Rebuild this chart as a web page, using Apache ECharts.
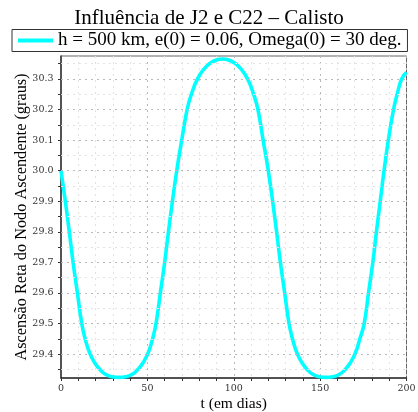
<!DOCTYPE html>
<html>
<head>
<meta charset="utf-8">
<script src="https://cdn.jsdelivr.net/npm/echarts@6/dist/echarts.min.js"></script>
<style>
html,body{margin:0;padding:0;background:#fff;}
#chart{width:418px;height:412px;}
</style>
</head>
<body>
<div id="chart"></div>
<script>
// Data
const tDays = [0, 2.5, 4.8, 7, 9.5, 12, 14, 16.5, 19.5, 22.5, 25.5, 29.5, 33.5, 37.5, 41.5, 44.5, 47.5, 50.5, 53, 55, 57.5, 60, 62.2, 64.5, 67, 69.9, 73, 75.5, 79, 83, 86.5, 90, 93.5, 97, 100.5, 104, 108, 111.5, 114, 117, 120, 122.5, 124.8, 127, 129.5, 132, 134, 136.5, 139.5, 142.5, 145.5, 149.5, 153.5, 157.5, 161.5, 164.5, 167.5, 170.5, 173, 175.5, 178, 180.5, 182.6, 184.8, 187, 189.5, 192.5, 194.6, 197.2, 200];
const omegaDeg = [30.00, 29.90, 29.80, 29.70, 29.60, 29.50, 29.45, 29.405, 29.372, 29.35, 29.335, 29.326, 29.324, 29.326, 29.335, 29.35, 29.372, 29.405, 29.45, 29.50, 29.60, 29.70, 29.80, 29.90, 30.00, 30.10, 30.20, 30.25, 30.30, 30.334, 30.352, 30.362, 30.365, 30.362, 30.352, 30.334, 30.30, 30.25, 30.20, 30.10, 30.00, 29.90, 29.80, 29.70, 29.60, 29.50, 29.45, 29.405, 29.372, 29.35, 29.335, 29.326, 29.324, 29.326, 29.335, 29.35, 29.372, 29.405, 29.45, 29.50, 29.60, 29.70, 29.80, 29.90, 30.00, 30.10, 30.20, 30.25, 30.30, 30.322];
const yMajorTicks = [29.4, 29.5, 29.6, 29.7, 29.8, 29.9, 30.0, 30.1, 30.2, 30.3];
const yMinorTicks = [29.35, 29.45, 29.55, 29.65, 29.75, 29.85, 29.95, 30.05, 30.15, 30.25, 30.35];
const seriesName = 'h = 500 km, e(0) = 0.06, Omega(0) = 30 deg.';
const titleText = 'Influência de J2 e C22 – Calisto';
const xName = 't (em dias)';
const yName = 'Ascensão Reta do Nodo Ascendente (graus)';

const serif = 'Liberation Serif';
const tickFont = 'DejaVu Serif';
const points = tDays.map((t, i) => [t, omegaDeg[i]]);
const allYTicks = yMajorTicks.concat(yMinorTicks).sort((a, b) => a - b);

const chart = echarts.init(document.getElementById('chart'), null, {renderer: 'canvas'});
chart.setOption({
  backgroundColor: '#ffffff',
  animation: false,
  title: {
    text: titleText,
    left: 'center',
    top: 8,
    padding: 0,
    textStyle: {fontFamily: serif, fontSize: 21, fontWeight: 'normal', color: '#000'}
  },
  legend: {
    left: 12,
    top: 29.5,
    padding: [1, 6],
    borderColor: '#333',
    borderWidth: 1,
    itemWidth: 35,
    itemHeight: 4,
    icon: 'rect',
    textStyle: {fontFamily: serif, fontSize: 19, color: '#000', lineHeight: 20},
    data: [seriesName]
  },
  grid: {
    left: 61, right: 11.5, top: 56, bottom: 34,
    outerBoundsMode: 'none',
    containLabel: false,
    show: true, borderColor: '#666', borderWidth: 1, backgroundColor: 'transparent'
  },
  xAxis: {
    type: 'value',
    min: 0, max: 200, interval: 50,
    name: xName, nameLocation: 'middle', nameGap: 18, nameMoveOverlap: false,
    nameTextStyle: {fontFamily: serif, fontSize: 15.5, color: '#000'},
    axisLine: {show: true, lineStyle: {color: '#333', width: 1.5}},
    axisTick: {show: true, length: 3, lineStyle: {color: '#333'}},
    minorTick: {show: true, splitNumber: 5, length: 3, lineStyle: {color: '#333'}},
    axisLabel: {fontFamily: tickFont, fontSize: 9.5, color: '#333', margin: 6},
    splitLine: {show: true, lineStyle: {color: '#b8b8b8', type: [2, 4], width: 1}},
    minorSplitLine: {show: true, lineStyle: {color: '#e2e2e2', type: [2, 4], width: 1}}
  },
  yAxis: {
    type: 'value',
    min: 29.322, max: 30.375,
    name: yName, nameLocation: 'middle', nameGap: 31, nameRotate: 90, nameMoveOverlap: false,
    nameTextStyle: {fontFamily: serif, fontSize: 16.3, color: '#000'},
    axisLine: {show: true, lineStyle: {color: '#333', width: 1.5}},
    axisTick: {show: true, length: 3, customValues: allYTicks, lineStyle: {color: '#333'}},
    axisLabel: {fontFamily: tickFont, fontSize: 9.5, color: '#333', margin: 7.5, customValues: yMajorTicks,
      formatter: v => v.toFixed(1)},
    splitLine: {show: false}
  },
  series: [
    {
      name: 'gridHelper',
      type: 'line',
      data: [],
      silent: true,
      z: 1,
      markLine: {
        silent: true,
        symbol: ['none', 'none'],
        label: {show: false},
        animation: false,
        data: yMajorTicks.map(v => ({yAxis: v, lineStyle: {color: '#b8b8b8', type: [2, 4], width: 1}}))
          .concat(yMinorTicks.map(v => ({yAxis: v, lineStyle: {color: '#e2e2e2', type: [2, 4], width: 1}})))
      }
    },
    {
      name: seriesName,
      type: 'line',
      data: points,
      showSymbol: false,
      symbol: 'none',
      smooth: 0.5,
      z: 3,
      lineStyle: {color: '#00ffff', width: 3.6},
      itemStyle: {color: '#00ffff'}
    }
  ]
});
</script>
</body>
</html>
